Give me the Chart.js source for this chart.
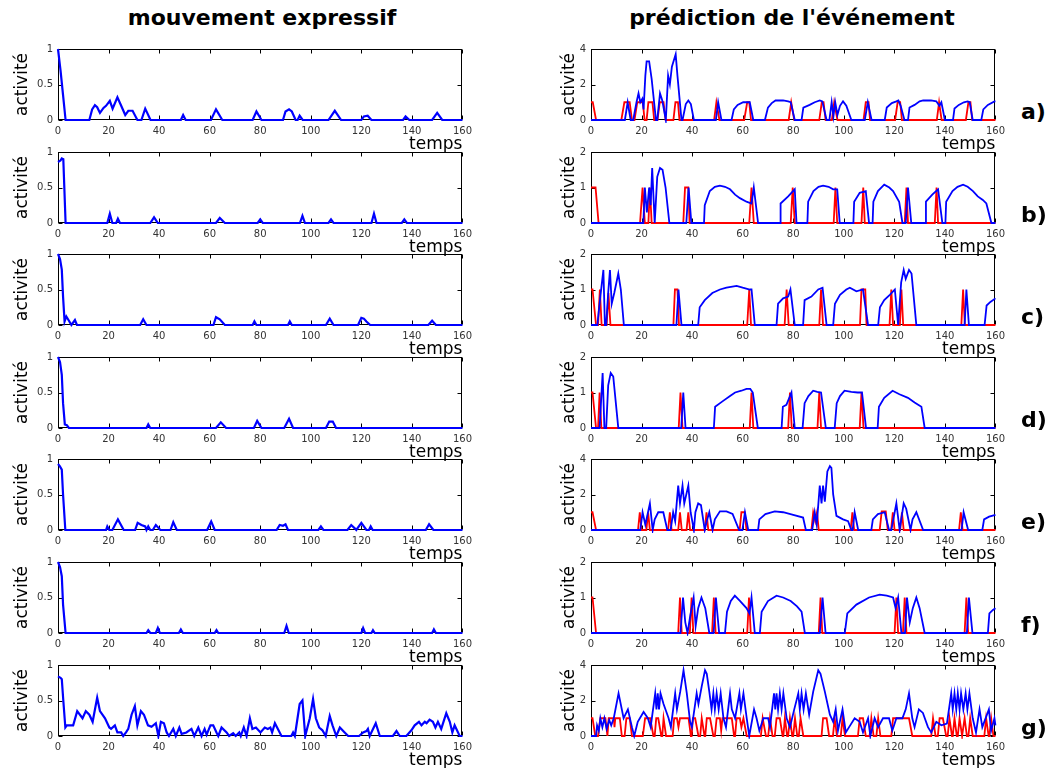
<!DOCTYPE html>
<html>
<head>
<meta charset="utf-8">
<script src="https://cdn.jsdelivr.net/npm/chart.js@4.4.0/dist/chart.umd.min.js"></script>
<style>
  body { margin: 0; background: #fff; width: 1056px; height: 768px; position: relative; overflow: hidden; font-family: "DejaVu Sans", sans-serif; }
  canvas { position: absolute; }
  .title { position: absolute; top: 5px; width: 400px; text-align: center; font-weight: bold; font-size: 22px; color: #000; }
  .tag { position: absolute; left: 1021px; font-weight: bold; font-size: 22px; color: #000; }
</style>
</head>
<body>
<div class="title" style="left:62px">mouvement expressif</div>
<div class="title" style="left:592px">prédiction de l'événement</div>

<script>
// x axis ticks (temps) and panel tags
const timeTicks = [0, 20, 40, 60, 80, 100, 120, 140, 160];
const tags = ['a)', 'b)', 'c)', 'd)', 'e)', 'f)', 'g)'];
const predMax = [4, 2, 2, 2, 4, 2, 4];

// left column: mouvement expressif, [temps, activité]
const mouvA = [[0,1],[1,0.7],[2,0.35],[3,0],[12.4,0],[13.5,0.15],[14.6,0.21],[15.5,0.18],[16.6,0.1],[18,0.17],[19,0.2],[20.5,0.27],[21.6,0.16],[23.5,0.32],[25,0.2],[26.6,0.07],[27.8,0.13],[29.5,0.13],[31.4,0],[33,0],[34.5,0.16],[36.6,0],[48.6,0],[49.5,0.07],[50.5,0],[60.5,0],[62.5,0.15],[65,0],[77,0],[78.5,0.12],[80.5,0],[89,0],[90,0.12],[91.4,0.15],[92.5,0.12],[94,0],[94.8,0],[95.6,0.06],[96.8,0],[107,0],[109.5,0.13],[112,0],[120,0],[121,0.05],[122.5,0.06],[124,0],[136.5,0],[137.5,0.05],[139,0],[148,0],[150,0.1],[152,0],[160,0]];
const mouvB = [[0,0.86],[1,0.88],[1.5,0.91],[2.1,0.9],[3,0],[19.5,0],[20.5,0.13],[21.5,0],[23,0],[23.7,0.06],[24.5,0],[36.5,0],[38,0.08],[39.5,0],[62.5,0],[64,0.07],[66,0],[79,0],[80,0.05],[81,0],[95.7,0],[96.7,0.1],[97.7,0],[107,0],[108,0.05],[109,0],[124,0],[125,0.13],[126,0],[136,0],[137,0.05],[138,0],[160,0]];
const mouvC = [[0,1],[0.8,0.93],[1.5,0.78],[2,0.4],[2.6,0.05],[3.3,0.12],[4.5,0.05],[5.3,0],[6.7,0.07],[7.5,0],[32.5,0],[33.7,0.08],[35,0],[61.5,0],[62.5,0.11],[64,0.08],[66,0],[77,0],[77.7,0.05],[78.5,0],[91,0],[91.7,0.05],[92.5,0],[106,0],[107.5,0.09],[109,0],[118.7,0],[120,0.1],[121,0.09],[122,0.05],[123.5,0],[146.5,0],[148,0.06],[149.5,0],[160,0]];
const mouvD = [[0,1],[0.8,0.93],[1.5,0.75],[2,0.35],[2.7,0.05],[3.5,0.04],[4.3,0],[35,0],[35.7,0.05],[36.5,0],[62.5,0],[64.4,0.08],[66.5,0],[77.5,0],[78.8,0.1],[80.5,0],[89.5,0],[91.4,0.13],[93,0],[106,0],[107.3,0.09],[108.7,0.09],[110,0],[160,0]];
const mouvE = [[0,0.93],[0.7,0.9],[1.5,0.85],[2,0.5],[2.9,0],[19,0],[19.5,0.05],[20.3,0],[21.5,0],[23.7,0.15],[26,0],[30.5,0],[31.5,0.1],[33,0.07],[34.5,0.05],[35,0],[35.7,0.05],[36.5,0],[37.5,0],[38.7,0.07],[40.5,0],[44.5,0],[45.6,0.11],[47,0],[59,0],[60.6,0.12],[62,0],[86.5,0],[87.7,0.07],[89,0.06],[90,0.08],[91,0],[103,0],[104,0.05],[105,0],[114.5,0],[116,0.07],[117.5,0.02],[118,0],[120,0.1],[122,0],[123,0],[123.7,0.05],[124.5,0],[145.5,0],[146.8,0.08],[148.5,0],[160,0]];
const mouvF = [[0,1],[0.8,0.93],[1.5,0.8],[2,0.4],[3,0],[35,0],[35.7,0.04],[36.5,0],[38.7,0],[39.5,0.07],[40.3,0],[47.8,0],[48.6,0.05],[49.4,0],[62,0],[62.7,0.04],[63.4,0],[89.5,0],[90.4,0.1],[91.3,0],[120,0],[120.7,0.07],[121.5,0],[124,0],[124.6,0.04],[125.3,0],[148,0],[148.7,0.05],[149.5,0],[160,0]];
const mouvG = [[0,0.84],[1,0.82],[1.5,0.8],[2.1,0.5],[2.9,0.12],[3.5,0.15],[6,0.15],[7.6,0.35],[9.7,0.25],[11,0.35],[12.4,0.3],[13.7,0.2],[15.5,0.54],[16.6,0.35],[18.6,0.25],[20.3,0.12],[21,0.1],[22.5,0.15],[23.5,0.05],[25,0.05],[25.8,0],[26.9,0.05],[27.8,0.1],[29.1,0.3],[30.4,0.42],[31.4,0.15],[32.8,0.35],[34,0.3],[35.6,0.15],[37,0.13],[38.7,0.18],[39.7,0],[40.7,0.2],[41.9,0.18],[43,0.05],[43.9,0],[45.6,0.1],[46.6,0],[48,0.12],[48.9,0.03],[50.8,0.05],[52.8,0.1],[53.9,0],[55.5,0.12],[56.8,0],[58,0.1],[58.8,0.02],[60.3,0.15],[61.4,0.15],[62.7,0.05],[63.4,0],[64.7,0.12],[66.7,0.05],[67.7,0],[69.3,0.04],[70.3,0],[71.7,0.05],[72.3,0],[73.5,0.12],[74.6,0],[75.9,0.25],[76.9,0.1],[78.3,0.12],[80.1,0.05],[81.8,0.12],[83,0.1],[84,0.12],[84.7,0.05],[85.8,0.18],[88.4,0],[92.3,0],[93,0.05],[93.7,0],[95.6,0.45],[96.7,0.5],[97.8,0],[99.6,0.25],[100.9,0.52],[102,0.25],[103.3,0.12],[104.6,0.08],[105.9,0],[107.5,0.28],[108.6,0.15],[110.1,0],[111.5,0.12],[113.4,0.05],[114.8,0],[119.1,0],[120.7,0.05],[122,0.07],[122.6,0.1],[123.3,0],[125.7,0.18],[127.3,0],[132.5,0],[133.9,0.07],[135.2,0],[137.8,0],[139.8,0.08],[141.1,0.15],[142.8,0.2],[143.8,0.15],[145.1,0.2],[145.8,0.18],[147,0.23],[148.3,0.2],[149.3,0.12],[150.3,0.2],[151.6,0.1],[153.6,0.32],[155,0.2],[156,0.05],[156.9,0.15],[158.9,0],[160,0]];

// right column: prédiction de l'événement, red = event, blue = prediction
const predRedA = [[0,1],[0.7,1],[2,0],[12,0],[13.2,1],[15.3,1],[16.2,0],[17.2,0],[18.3,1],[20.5,1],[21.2,0],[22,0],[22.7,1],[24.3,1],[25,0],[26.3,0],[27.2,1],[28.7,1],[29.5,0],[32.6,0],[33.4,1],[34.4,1],[35,0],[48.7,0],[49.6,1],[50.8,0],[60.6,0],[61.8,1],[62.6,1],[63.3,0],[78.2,0],[79.2,1],[80.4,0],[90.3,0],[91.3,1],[92,1],[92.8,0],[95.3,0],[96.2,1],[97.5,0],[107.8,0],[108.7,1],[109.8,1],[110.4,0],[120.3,0],[121.3,1],[122.3,1],[123,0],[136.8,0],[137.7,1],[138.7,0],[148.3,0],[149.3,1],[150.1,1],[150.8,0],[160,0]];
const predBlueA = [[0,0],[13.4,0],[14.5,1],[15.7,0],[16.7,0],[18,1],[18.8,1.5],[19.5,1],[20.3,1.2],[20.8,0.6],[21.5,2.5],[22,3.3],[23,3.3],[24,2.3],[25.7,0],[26.2,0],[27.3,1.5],[28.2,1.1],[29.6,0],[30.5,2.5],[31.2,2],[32,3],[33.5,3.7],[34.2,2.5],[35.8,0],[36.2,0],[37.5,0.9],[38.5,1.1],[39.5,0.9],[40.7,0],[49.4,0],[50.3,1],[51.6,0],[55.6,0],[56.5,0.6],[58,0.85],[60.2,1],[62.8,1],[64.2,0],[68.8,0],[70,0.7],[71.5,0.95],[73,1.1],[76,1.1],[78,1.05],[79,1],[80.6,0],[83.3,0],[84,0.7],[86.5,0.85],[88.5,1],[90.5,1.1],[91.5,1.05],[93.2,0],[94.3,0],[95.2,1],[95.9,0.2],[96.6,1],[97.5,0.3],[98.5,0.8],[99.7,1.05],[101,0.8],[103,0],[108.3,0],[109.5,1],[111,0],[116.2,0],[117,0.7],[119,0.95],[120.8,1.05],[121.6,1.1],[122.5,0.8],[124,0],[125.4,0],[126,0.7],[128,0.85],[130,1.05],[131.4,1.1],[134.5,1.1],[136.6,1.05],[137.8,0.8],[138.6,1],[140,0],[143.2,0],[143.8,0.65],[145.5,0.85],[147.5,1],[149,1.05],[149.8,1],[151,0],[154.4,0],[155.2,0.6],[157,0.85],[159.6,1.05],[160,1.05]];
const predRedB = [[0,1],[1.8,1],[3,0],[19.4,0],[20.4,1],[21.3,0],[22.7,0],[23.3,1],[24,0],[36.5,0],[37.2,1],[38.5,1],[39,0],[62.6,0],[63.5,1],[64.4,0],[79,0],[79.8,1],[80.6,0],[96,0],[96.7,1],[97.4,0],[107,0],[107.7,1],[108.3,0],[124.1,0],[124.8,1],[125.4,0],[136,0],[136.7,1],[137.3,0],[160,0]];
const predBlueB = [[0,0],[20.7,0],[21.3,1],[22.1,0.3],[23,1],[23.6,0.5],[24.2,1.55],[25.2,0],[26.2,1.3],[27.3,1.55],[28.3,1.5],[29.5,1.0],[31,0],[37.7,0],[38.6,1],[39.7,0],[44.7,0],[45,0.5],[47,0.9],[49,1.02],[51,1.05],[53,1.02],[55,0.95],[57,0.8],[58.9,0.7],[61.5,0.6],[63.5,0.55],[64.4,1],[66.1,0],[74.8,0],[75,0.55],[78,0.75],[80.6,0.95],[81.3,0],[85.6,0],[85.9,0.6],[88,0.9],[90,1.02],[91.8,1.05],[94,1.02],[95.8,0.95],[97.4,0.95],[98.4,0],[103.8,0],[104.1,0.6],[106.3,0.85],[108.7,0.9],[110,0],[111.4,0],[111.7,0.6],[113.5,0.9],[116,1.08],[118,1.0],[119.5,0.9],[121.9,0.6],[123.2,0],[124.5,0],[125.4,1],[126.7,0],[132.2,0],[132.5,0.6],[135,0.8],[137.3,0.95],[139,0],[140.2,0],[140.5,0.6],[143,0.9],[145,1.02],[147.2,1.08],[149,1.02],[151.1,0.9],[153,0.75],[155,0.65],[156.4,0.55],[158.4,0],[160,0]];
const predRedC = [[0,1],[0.6,1],[2,0],[2.8,0],[3.5,1],[4.2,0],[6.2,0],[6.9,0.9],[7.7,0],[32.6,0],[33.2,1],[34.2,1],[34.8,0],[61.8,0],[62.6,1],[63.3,0],[76.6,0],[77.4,1],[78.2,0],[90.3,0],[91,1],[91.8,0],[106.4,0],[107,1],[108.5,1],[109,0],[118.1,0],[118.8,1],[119.5,0],[122.2,0],[122.8,1],[123.5,0],[146.5,0],[147.2,1],[147.9,0],[160,0]];
const predBlueC = [[0,0],[2.5,0],[3.7,0.8],[4.9,1.55],[5.5,0],[6,0],[6.8,0.9],[7.5,1.55],[8.2,0.6],[9.2,0.9],[10.8,1.45],[11.8,1],[13,0],[33.8,0],[34.6,1],[35.8,0],[42.4,0],[43,0.5],[45,0.7],[48,0.9],[51,1.0],[53.6,1.05],[57.6,1.1],[60,1.05],[62.8,1.0],[63.5,1],[64.8,0],[73.4,0],[74,0.6],[76,0.75],[78,0.8],[78.9,1],[80.6,0],[83.9,0],[84.5,0.7],[87.2,0.8],[89.9,1.0],[91.6,1.05],[93.2,0],[95.8,0],[96.5,0.6],[98.5,0.85],[101,1.0],[102.4,1.05],[105,0.95],[107.6,1.0],[109.6,0],[113.6,0],[114.3,0.5],[116,0.7],[118.2,0.85],[120.2,1.0],[121.5,0],[122.7,1.2],[123.7,1.55],[124.5,1.3],[125.8,1.55],[126.8,1.45],[128.7,0],[147.8,0],[148.5,1],[149.5,0],[155.7,0],[156.5,0.55],[158,0.65],[160,0.75]];
const predRedD = [[0,1],[0.6,1],[2,0],[2.8,0],[3.4,1],[4.1,0],[34.7,0],[35.4,1],[36.2,0],[62.8,0],[63.5,1],[64.2,0],[78,0],[78.7,1],[79.4,0],[89.6,0],[90.3,1],[91,0],[106.3,0],[107,1],[107.8,0],[160,0]];
const predBlueD = [[0,0],[3.4,0],[4.1,0.9],[4.6,1.55],[5.3,0],[6,0],[6.8,1.2],[7.8,1.55],[8.8,1.45],[10.8,0],[35.7,0],[36.5,1],[37.4,0],[48.6,0],[49.1,0.6],[52,0.75],[55,0.9],[57,1.0],[59.5,1.05],[61.5,1.1],[63,1.1],[64,1.0],[66,0],[75.4,0],[75.9,0.6],[77.3,0.65],[79.3,1.0],[80.6,0],[83.7,0],[84.5,0.7],[86,0.9],[87.9,1.05],[89.5,1.02],[91,1.0],[92.9,0],[96.4,0],[97.2,0.7],[98.5,0.9],[100.3,1.05],[103,1.02],[105.5,1.0],[107.2,1.0],[108.8,0],[113.4,0],[113.9,0.6],[116,0.85],[119.3,1.05],[122,0.95],[125.4,0.85],[128,0.72],[130.7,0.6],[132,0],[160,0]];
const predRedE = [[0,1],[0.6,1],[2,0],[18.6,0],[19.3,1],[20,0],[21.9,0],[22.6,1],[23.3,0],[30.5,0],[31.2,1],[31.9,0],[34.5,0],[35.2,1],[35.9,0],[37.8,0],[38.5,1],[39.2,0],[45,0],[45.7,1],[46.4,0],[58.8,0],[59.5,1],[60.8,1],[61.5,0],[87.2,0],[87.9,1],[88.7,0.5],[89.4,1],[90.1,0],[102.7,0],[103.4,1],[104.1,0],[114.2,0],[115,1.05],[116.6,1.05],[117.4,0],[118.7,0],[119.4,1],[120.1,0],[122.3,0],[123,1],[123.7,0],[145.6,0],[146.3,1],[147,0],[160,0]];
const predBlueE = [[0,0],[19.5,0],[20.4,1],[21.5,0.3],[23.3,1.5],[24.4,0],[25.2,0.6],[26.6,1],[28.6,1],[30.2,0],[31.5,0],[32.5,1],[33.3,0.5],[34.5,2.5],[35.2,1.5],[36.2,2.5],[36.9,1.5],[38.5,2.5],[39.4,1.0],[40.7,0],[41.3,1],[42.4,1.5],[43.5,1.4],[45,0],[45.8,0.5],[46.8,1.0],[48.1,0],[49,0.6],[51,1.05],[53.6,1.05],[56,0.9],[58.6,0],[59.9,0],[60.9,1],[62.2,0],[66.1,0],[66.6,0.6],[69,0.9],[72.7,1.05],[76,1.0],[80,0.85],[83.9,0.7],[85,0],[87.5,0],[88.5,1],[89.3,0.3],[90.5,2.5],[91.2,1.5],[91.8,2.5],[92.5,1.6],[93.5,3.3],[94.5,3.6],[95.1,3.5],[95.8,2.0],[97.1,0.8],[99.7,0.6],[101.7,0.5],[103,0],[103.5,0],[104.3,1],[105.7,0],[110.9,0],[111.5,0.6],[113.5,0.9],[116.2,1.0],[117.9,0],[118.8,0],[120.8,1.5],[122.1,0],[123.7,1.5],[124.7,1.2],[126.4,0],[127.2,0.6],[128.7,1],[131.4,0],[146.6,0],[147.4,1],[149.2,0],[154.8,0],[155.5,0.6],[157.5,0.75],[160,0.85]];
const predRedF = [[0,1],[0.6,1],[2,0],[34.5,0],[35.2,1],[35.9,0],[39.1,0],[39.8,1],[40.5,0],[47.9,0],[48.6,1],[49.3,0],[61.8,0],[62.5,1],[63.2,0],[90.1,0],[90.8,1],[91.5,0],[120.1,0],[120.8,1],[121.5,0],[123.4,0],[124.1,1],[124.8,0],[147.8,0],[148.5,1],[149.2,0],[160,0]];
const predBlueF = [[0,0],[35.4,0],[36.4,1],[37.3,0.3],[38.2,0],[39.3,0.5],[40.6,1],[41.4,0.2],[42.4,0.7],[43.7,1.0],[45.2,0.7],[46.8,0],[48.5,0],[49.4,1],[50.7,0],[53,0],[53.8,0.6],[55.3,0.9],[56.9,1.05],[59,0.9],[61.5,0.7],[62.7,0.55],[63.5,1],[64.8,0],[66.8,0],[67.5,0.6],[70,0.9],[73.4,1.05],[76,1.0],[79,0.9],[81.5,0.75],[83.3,0.6],[84.6,0],[90.5,0],[91.6,1],[92.8,0],[100.4,0],[101.4,0.55],[105,0.8],[110,1.0],[114.2,1.08],[117,1.05],[119.5,1.0],[120.5,0.7],[121.5,1],[122.8,0],[124.2,0],[125,1],[126.1,0.3],[127.3,0.7],[128.7,1],[130,0.7],[132,0],[148.7,0],[149.5,1],[150.9,0],[157,0],[157.6,0.55],[159,0.65],[160,0.7]];
const predRedG = [[0,1],[0.6,1],[1.7,0],[2.8,0],[3.7,1],[5.7,1],[6.5,0],[7,1],[9,1],[9.3,0.5],[9.6,1],[11.4,1],[12.2,0],[13.3,0],[14,1],[15.3,1],[16.2,0],[20.5,0],[21.4,1],[23.4,1],[24.7,0],[25.2,0],[25.8,1],[26.6,1],[27.8,0],[28.2,0],[28.7,1],[29.7,0],[32.3,0],[32.9,1],[34,1],[34.6,0.5],[35.2,1],[38.6,1],[39.5,0],[39.8,0],[40.3,1],[41.2,1],[42.5,0],[43.2,0],[43.8,1],[44.9,0],[45.2,0],[45.8,1],[47.1,1],[48.4,0],[49,0],[49.7,1],[51,1],[51.5,0.3],[52,1],[55.7,1],[56.6,0],[57,0],[57.6,1],[58.9,1],[59.5,0.5],[60.3,1],[61.6,0],[67.2,0],[67.9,1],[69.2,0],[70.1,0],[70.8,1],[71.8,0],[72.7,0],[73.4,1],[74.7,1],[75.8,0],[76.1,0],[76.7,1],[77.6,0],[78,0],[78.7,1],[79.6,0],[80,0],[80.7,1],[81.6,0],[82.2,0],[82.9,1],[84,0],[91.2,0],[91.8,1],[93.2,1],[94.2,0],[95.7,0],[96.4,1],[97.3,0],[98.8,0],[99.5,1],[100.5,0],[105.6,0],[106.3,1],[107.6,1],[108.7,0],[110.2,0],[110.9,1],[111.8,0],[112.9,0],[113.6,1],[114.5,0],[118.8,0],[119.5,1],[125.8,1],[127.1,0],[134.6,0],[135.3,1],[136.3,0],[137.2,0],[137.9,1],[139.2,1],[140.5,0],[141.1,0],[141.8,1],[142.8,0],[143.1,0],[143.8,1],[144.7,0],[145.1,0],[145.8,1],[146.8,0],[147.1,0],[147.8,1],[148.7,0],[149.3,0],[150,1],[151,0],[155.6,0],[156.3,1],[157.3,0],[157.6,0],[158.3,1],[159.2,0],[160,0]];
const predBlueG = [[0,0],[2,0],[2.4,0.6],[3.1,0.3],[3.7,1],[4.5,0.5],[5.3,1],[6.2,0.4],[7.2,0.9],[8,0.6],[9,1],[10.9,2.4],[12.9,1.0],[14.6,1.5],[16.2,0.5],[17.1,0],[18.5,0.8],[20.8,1.35],[22.5,1.0],[23.6,0.5],[25.4,2.4],[25.9,1.5],[26.4,2.4],[26.9,1.5],[27.5,2.4],[28.7,1.8],[30.7,1.0],[31.6,0.5],[33.3,2.4],[34,1.5],[35.3,2.5],[36.6,3.7],[37.9,2.4],[39.2,0.8],[39.9,0.5],[41.8,2.4],[42.5,1.8],[43.8,2.8],[45.1,3.7],[45.8,3.5],[46.8,2.5],[47.7,1.5],[48.4,2.4],[49,1.5],[49.7,2.4],[50.5,1.5],[51.3,2.4],[52.4,1.0],[53.4,0.5],[55,2.4],[55.7,1.5],[57,1.0],[58.7,2.4],[59.3,1.5],[60.3,2.4],[61.6,1.0],[62.6,0],[64.5,1.5],[65.5,1.0],[66.6,0.3],[68.2,1.0],[70.1,1.0],[70.8,0.5],[72.4,2.4],[72.9,1.5],[73.4,2.4],[74,1.5],[74.7,2.4],[75.4,1.5],[76.1,2.4],[77.4,1.0],[78.7,0.5],[80.4,1.5],[82,2.4],[82.6,1.5],[83.3,2.4],[84.1,1.5],[85,2.4],[86.3,1.2],[87.9,2.5],[89.9,3.7],[90.8,3.5],[92.5,2.5],[94.5,1.2],[95.8,0.8],[96.8,1.5],[97.7,0.3],[99.5,1.5],[100.8,0.2],[102.1,0.5],[104.3,1.0],[106.3,0.8],[107.6,0.2],[109.6,1.0],[110.5,0],[112.2,1.0],[113.6,0.5],[115.5,1.0],[117.9,1.0],[119.2,0.3],[120.8,1.0],[123.2,1.0],[124.5,1.5],[125.8,2.4],[127.1,1.0],[128,0.5],[129.7,1.5],[131.3,1.3],[133.3,0.5],[134.6,0.2],[136.6,0.8],[138.6,0.6],[140.8,0.7],[142.5,2.4],[143.1,1.5],[143.8,2.4],[144.5,1.5],[145.1,2.4],[145.8,1.5],[146.4,2.4],[147.3,1.5],[148.2,2.4],[148.9,1.5],[149.7,2.4],[151,1.0],[152.3,0.2],[153.7,1.5],[154.8,0.5],[157.4,1.5],[158.3,0.3],[159.6,1.0],[160,0.6]];

const mouvSeries = [mouvA, mouvB, mouvC, mouvD, mouvE, mouvF, mouvG];
const redSeries = [predRedA, predRedB, predRedC, predRedD, predRedE, predRedF, predRedG];
const blueSeries = [predBlueA, predBlueB, predBlueC, predBlueD, predBlueE, predBlueF, predBlueG];

// layout of the panels
const rowTops = [46, 148.6, 251.2, 353.8, 456.4, 559, 661.6];
const plotW = 405, plotH = 74;
const padTop = 8, padRight = 14, xAxisH = 36;

// box + inward tick marks, matlab style
const boxTicks = {
  id: 'boxTicks',
  beforeDatasetsDraw(chart) {
    const {ctx, chartArea: a, scales: {x, y}} = chart;
    ctx.save();
    ctx.strokeStyle = '#000';
    ctx.lineWidth = 1;
    const L = Math.round(a.left) + 0.5, R = Math.round(a.right) - 0.5;
    const T = Math.round(a.top) + 0.5, B = Math.round(a.bottom) - 0.5;
    ctx.strokeRect(L, T, R - L, B - T);
    ctx.beginPath();
    x.ticks.forEach(t => {
      const p = Math.round(x.getPixelForValue(t.value)) + 0.5;
      ctx.moveTo(p, B); ctx.lineTo(p, B - 4);
      ctx.moveTo(p, T); ctx.lineTo(p, T + 4);
    });
    y.ticks.forEach(t => {
      const p = Math.round(y.getPixelForValue(t.value)) + 0.5;
      ctx.moveTo(L, p); ctx.lineTo(L + 4, p);
      ctx.moveTo(R, p); ctx.lineTo(R - 4, p);
    });
    ctx.stroke();
    ctx.restore();
  }
};

function toXY(arr) {
  return arr.map(p => ({x: p[0], y: p[1]}));
}

function makePanel(left, top, yAxisW, titlePad, yMax, datasets) {
  const canvas = document.createElement('canvas');
  const w = yAxisW + plotW + padRight;
  const h = padTop + plotH + xAxisH;
  canvas.width = w;
  canvas.height = h;
  canvas.style.left = left + 'px';
  canvas.style.top = (top - padTop) + 'px';
  canvas.style.width = w + 'px';
  canvas.style.height = h + 'px';
  document.body.appendChild(canvas);

  new Chart(canvas.getContext('2d'), {
    type: 'line',
    data: {datasets: datasets},
    options: {
      responsive: false,
      animation: false,
      devicePixelRatio: 1,
      layout: {padding: {top: padTop, right: padRight, left: 0, bottom: 0}},
      plugins: {legend: {display: false}, tooltip: {enabled: false}},
      elements: {point: {radius: 0}, line: {tension: 0}},
      scales: {
        x: {
          type: 'linear', min: 0, max: 160,
          afterFit: s => { s.height = xAxisH; },
          afterBuildTicks: s => { s.ticks = timeTicks.map(v => ({value: v})); },
          grid: {display: false, drawTicks: false},
          border: {display: false},
          ticks: {padding: 5, maxRotation: 0, autoSkip: false, color: '#333', font: {family: 'DejaVu Sans', size: 10}},
          title: {display: true, text: 'temps', align: 'end', color: '#000', font: {family: 'DejaVu Sans', size: 17}, padding: {top: 0, bottom: 1}}
        },
        y: {
          min: 0, max: yMax,
          afterFit: s => { s.width = yAxisW; },
          grid: {display: false, drawTicks: false},
          border: {display: false},
          ticks: {stepSize: yMax / 2, padding: 5, color: '#333', font: {family: 'DejaVu Sans', size: 10}, callback: v => String(v)},
          title: {display: true, text: 'activité', color: '#000', font: {family: 'DejaVu Sans', size: 17}, padding: {top: titlePad, bottom: 0}}
        }
      }
    },
    plugins: [boxTicks]
  });
}

for (let i = 0; i < 7; i++) {
  makePanel(0, rowTops[i], 58, 12, 1, [
    {data: toXY(mouvSeries[i]), borderColor: '#0000ff', borderWidth: 2.2, clip: 3}
  ]);
  makePanel(551, rowTops[i], 40, 8, predMax[i], [
    {data: toXY(blueSeries[i]), borderColor: '#0000ff', borderWidth: 1.8, clip: 3},
    {data: toXY(redSeries[i]), borderColor: '#ff0000', borderWidth: 1.8, clip: 3}
  ]);
  const tag = document.createElement('div');
  tag.className = 'tag';
  tag.textContent = tags[i];
  tag.style.top = (rowTops[i] + 53) + 'px';
  document.body.appendChild(tag);
}
</script>
</body>
</html>
